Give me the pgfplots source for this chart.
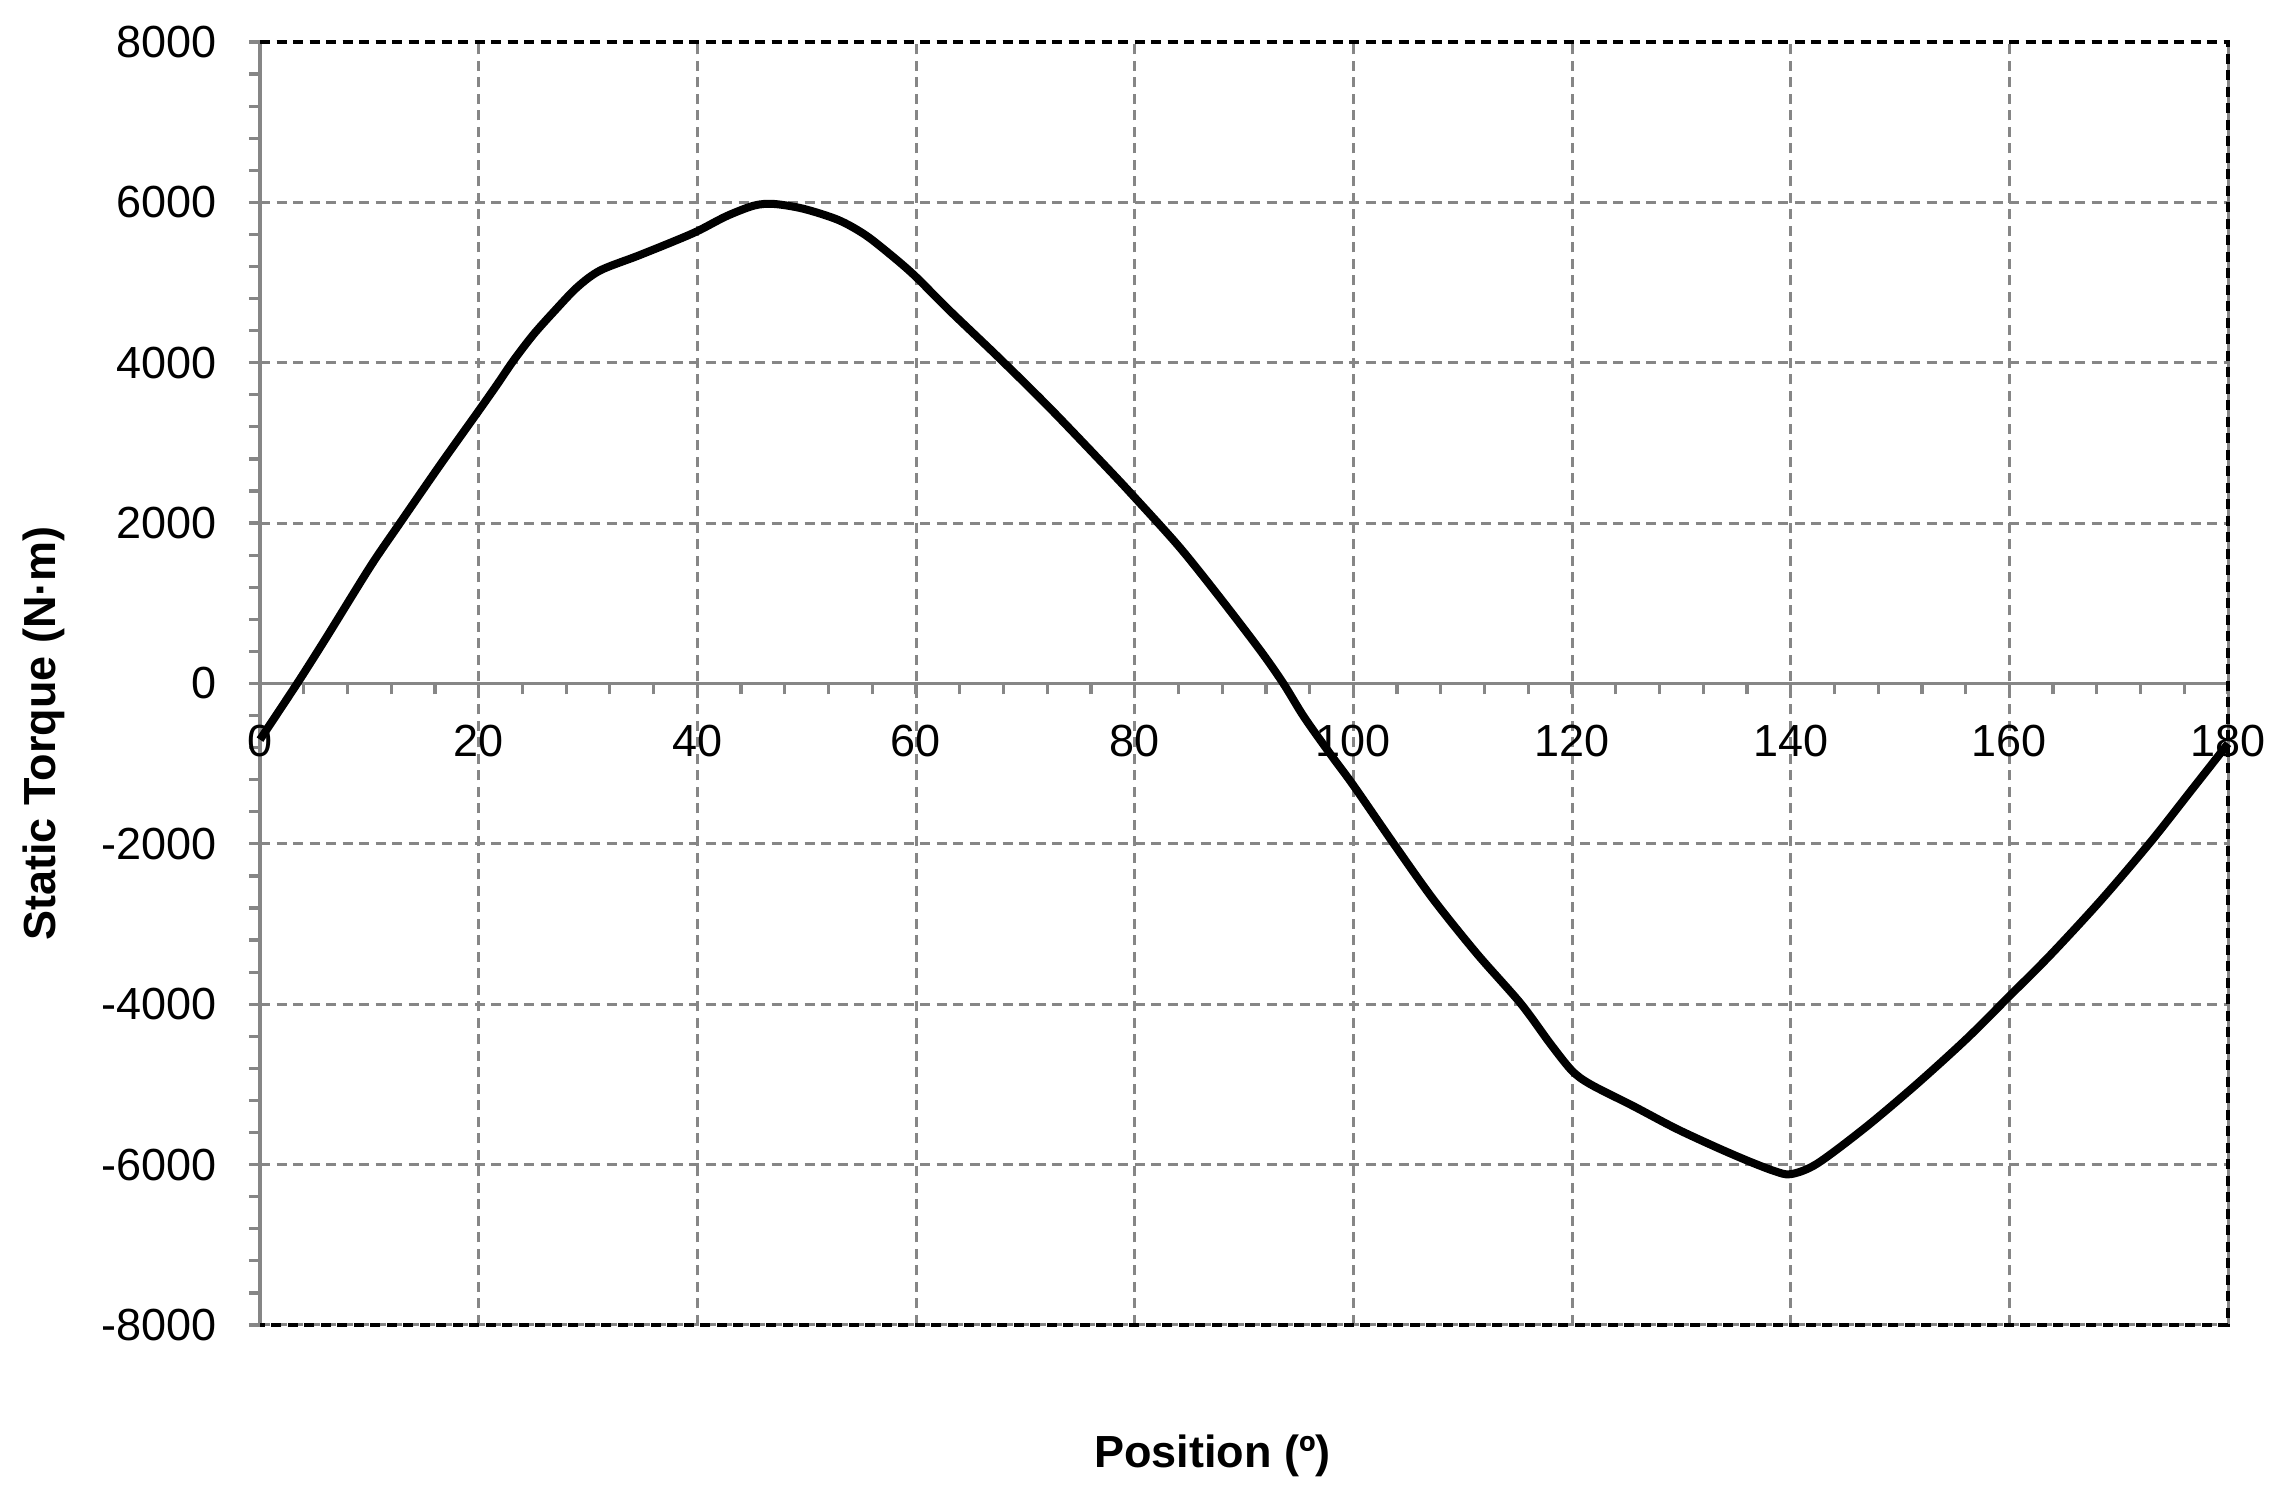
\documentclass[border=0pt]{standalone}
\usepackage{fontspec}
\setmainfont{Liberation Sans}
\usepackage{pgfplots}
\pgfplotsset{compat=1.18}
\usetikzlibrary{calc}
\definecolor{axgray}{HTML}{868686}

\pgfplotstableread{
x y
0 -700
3.4 0
6.1 580
10.1 1460
12.8 2000
16.5 2730
20 3400
21.7 3730
23.2 4030
25 4350
26.9 4640
29 4940
31.1 5150
34.5 5330
37.6 5500
40 5640
42.7 5830
45.2 5960
47 5980
49.7 5920
52.9 5780
55.4 5590
58 5310
60 5070
63 4660
67.6 4060
72.2 3440
77.4 2700
80 2320
84.1 1700
87.8 1070
91.5 410
93.6 0
95.5 -420
98 -900
100 -1270
103.7 -2000
107.3 -2690
111.3 -3370
115.3 -3990
118 -4490
120 -4830
121.7 -5000
125.6 -5270
129.5 -5550
133.3 -5790
136.2 -5960
138.5 -6080
140 -6120
142.4 -5990
146.9 -5530
151.5 -5000
156.1 -4430
160 -3900
163.8 -3380
168.4 -2700
172.9 -1980
176.6 -1340
180 -750
}\torque

\begin{document}
\begin{tikzpicture}
\begin{axis}[
 width=393.6pt,height=256.6pt,scale only axis,
 xmin=0,xmax=180,ymin=-8000,ymax=8000,
 axis x line=middle,axis y line=left,
 axis line style={-,draw=axgray,line width=0.65pt},
 hide obscured x ticks=false,hide obscured y ticks=false,
 xtick={0,20,...,180},xticklabels={0,20,40,60,80,100,120,140,160,180},
 ytick={-8000,-6000,...,8000},
 yticklabels={-8000,-6000,-4000,-2000,0,2000,4000,6000,8000},
 scaled ticks=false,
 minor x tick num=4,minor y tick num=4,
 tick align=outside,major tick length=2.2pt,minor tick length=2.2pt,
 tick style={draw=axgray,line width=0.65pt},
 grid=major,
 grid style={draw=axgray,line width=0.6pt,dash pattern=on 2pt off 1.3pt},
 tick label style={font=\fontsize{9}{10.8}\selectfont,text=black},
 xticklabel style={anchor=north,yshift=-2.5pt},
 yticklabel style={anchor=east,xshift=-3pt},
 xlabel={\textbf{Position (º)}},
 ylabel={\textbf{Static Torque (N·m)}},
 label style={font=\fontsize{9}{10.8}\selectfont},
 xlabel style={at={(axis description cs:0.484,-0.102)},anchor=center},
 ylabel style={at={(axis description cs:-0.110,0.461)},anchor=center,rotate=0},
 clip=false,
]
\addplot[black,line width=1.6pt,smooth,tension=0.5] table[x=x,y=y] {\torque};
\draw[black,line width=0.65pt,dash pattern=on 2pt off 1.3pt]
 (rel axis cs:0,1) -- (rel axis cs:1,1) -- (rel axis cs:1,0) -- (rel axis cs:0,0);
\coordinate (bl) at (rel axis cs:0,0);
\coordinate (tr) at (rel axis cs:1,1);
\end{axis}
\pgfresetboundingbox
\path ($(bl)+(-52pt,-35pt)$) rectangle ($(tr)+(12.2pt,8.4pt)$);
\end{tikzpicture}
\end{document}
